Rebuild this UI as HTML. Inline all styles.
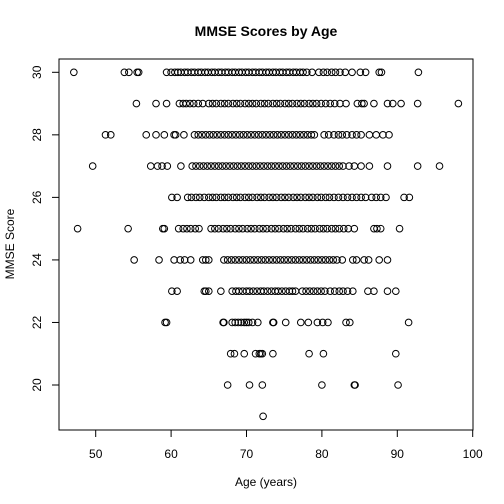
<!DOCTYPE html>
<html><head><meta charset="utf-8">
<style>
html,body{margin:0;padding:0;background:#fff;}
svg{display:block;font-family:"Liberation Sans",Arial,sans-serif;}
</style></head>
<body>
<svg id="chart" width="504" height="504" viewBox="0 0 504 504">
<rect x="0" y="0" width="504" height="504" fill="#fff"/>
<text x="266" y="36" text-anchor="middle" font-size="14" font-weight="bold">MMSE Scores by Age</text>
<text x="266" y="486" text-anchor="middle" font-size="12">Age (years)</text>
<text x="0" y="0" transform="translate(14,244) rotate(-90)" text-anchor="middle" font-size="12">MMSE Score</text>
<rect x="59" y="59" width="414" height="371" fill="none" stroke="#000" stroke-width="1"/>
<g id="xaxis"></g>
<g id="yaxis"></g>
<g id="points"></g>
</svg>
<script>
const xTicks = [50,60,70,80,90,100];
const yTicks = [20,22,24,26,28,30];
const scores = [30,29,28,27,26,25,24,23,22,21,20,19];
const row30 = [47.1,53.8,54.4,55.5,55.7,59.4,60.0,60.5,60.9,61.3,61.8,62.2,62.7,63.1,63.6,64.0,64.5,64.9,65.4,65.8,66.3,66.7,67.2,67.6,68.1,68.5,69.0,69.4,69.9,70.3,70.8,71.2,71.7,72.1,72.6,73.0,73.5,73.9,74.4,74.8,75.3,75.7,76.2,76.6,77.1,77.5,78.0,78.7,79.6,80.2,80.7,81.3,81.8,82.4,83.1,84.0,85.1,85.8,87.6,87.9,92.8];
const row29 = [55.4,58.0,59.4,61.1,61.6,62.0,62.5,63.0,63.6,64.2,65.0,65.5,66.0,66.6,67.1,67.6,68.2,68.7,69.2,69.8,70.3,70.8,71.3,71.9,72.4,72.9,73.5,74.0,74.5,75.1,75.6,76.1,76.7,77.2,77.7,78.3,78.8,79.3,79.9,80.5,81.1,81.7,82.4,83.2,84.7,85.3,85.6,86.9,88.7,89.4,90.5,92.7,98.1];
const row28 = [51.3,52.0,56.7,58.0,59.1,60.4,60.6,61.7,63.1,63.6,64.1,64.6,65.1,65.6,66.1,66.6,67.1,67.6,68.1,68.6,69.1,69.6,70.1,70.6,71.1,71.6,72.1,72.6,73.1,73.6,74.1,74.6,75.1,75.6,76.1,76.6,77.1,77.6,78.1,78.6,79.0,80.3,80.9,81.6,82.2,82.7,83.3,84.0,84.6,85.2,86.3,87.2,88.1,88.9];
const row27 = [49.6,57.3,58.2,58.8,59.5,61.3,62.8,63.3,63.8,64.3,64.8,65.3,65.8,66.3,66.8,67.3,67.8,68.3,68.8,69.3,69.8,70.3,70.8,71.3,71.8,72.3,72.8,73.3,73.8,74.3,74.8,75.3,75.8,76.3,76.8,77.3,77.8,78.3,78.8,79.3,79.8,80.3,80.8,81.3,81.8,82.3,82.8,83.6,84.3,85.2,86.3,88.7,92.7,95.6];
const row26 = [60.1,60.8,62.2,62.7,63.3,63.8,64.4,65.0,65.5,66.0,66.6,67.1,67.6,68.2,68.7,69.2,69.8,70.3,70.8,71.4,71.9,72.4,73.0,73.5,74.0,74.6,75.1,75.6,76.2,76.7,77.2,77.8,78.3,78.8,79.4,79.9,80.5,81.0,81.6,82.2,82.8,83.4,84.0,84.6,85.2,85.8,86.6,87.2,87.8,88.5,90.9,91.6];
const row25 = [47.6,54.3,58.9,59.1,61.0,61.6,62.1,62.6,63.2,63.7,65.3,65.8,66.3,66.9,67.4,67.9,68.5,69.0,69.5,70.1,70.6,71.1,71.7,72.2,72.7,73.3,73.8,74.3,74.9,75.4,75.9,76.5,77.0,77.5,78.1,78.6,79.1,79.7,80.2,80.7,81.3,81.8,82.3,82.9,83.5,84.3,86.9,87.3,87.8,90.3];
const row24 = [55.1,58.4,60.4,61.2,61.8,62.6,64.2,64.6,65.0,67.0,67.5,68.0,68.5,69.0,69.5,70.0,70.5,71.0,71.5,72.0,72.5,73.0,73.5,74.0,74.5,75.0,75.5,76.0,76.5,77.0,77.5,78.0,78.5,79.0,79.5,80.0,80.5,81.0,81.5,82.0,82.7,84.1,84.6,85.6,86.2,87.6,88.7];
const row23 = [60.1,60.8,64.4,64.6,65.0,66.6,68.1,68.6,69.0,69.5,70.0,70.4,70.9,71.4,71.9,72.3,72.8,73.3,73.8,74.2,74.7,75.2,75.7,76.1,76.5,77.4,77.9,78.4,78.9,79.4,79.9,80.4,81.1,81.7,82.3,82.8,83.4,84.1,86.1,86.9,88.7,89.8];
const row22 = [59.2,59.4,66.9,67.0,68.1,68.5,68.9,69.3,69.7,70.0,70.3,70.8,71.5,73.5,73.6,75.2,77.2,78.2,79.4,80.1,80.8,83.2,83.7,91.5];
const row21 = [67.9,68.4,69.7,71.2,71.7,71.9,72.1,73.5,78.3,80.2,89.8];
const row20 = [67.5,70.4,72.1,80.0,84.3,84.4,90.1];
const row19 = [72.2];
const rows = [row30,row29,row28,row27,row26,row25,row24,row23,row22,row21,row20,row19];

const NS = "http://www.w3.org/2000/svg";
function xs(v){ return 95.7 + (v-50)*7.54; }
function ys(v){ return 72.3 + (30-v)*31.27; }
function mk(tag, attrs, parent){
  const e = document.createElementNS(NS, tag);
  for (const k in attrs) e.setAttribute(k, attrs[k]);
  parent.appendChild(e);
  return e;
}
const xg = document.getElementById('xaxis');
const yg = document.getElementById('yaxis');
const pg = document.getElementById('points');
mk('line',{x1:xs(xTicks[0]),x2:xs(xTicks[xTicks.length-1]),y1:430,y2:430,stroke:'#000','stroke-width':1},xg);
xTicks.forEach(t=>{
  const l = mk('line',{x1:xs(t),x2:xs(t),y1:430,y2:437,stroke:'#000','stroke-width':1},xg);
  
  
  const tx = mk('text',{x:xs(t),y:458,'text-anchor':'middle','font-size':12},xg);
  tx.textContent = t;
  
  
});
mk('line',{x1:59,x2:59,y1:ys(yTicks[0]),y2:ys(yTicks[yTicks.length-1]),stroke:'#000','stroke-width':1},yg);
yTicks.forEach(t=>{
  const l = mk('line',{x1:52,x2:59,y1:ys(t),y2:ys(t),stroke:'#000','stroke-width':1},yg);
  
  
  const tx = mk('text',{x:0,y:0,transform:'translate(41,'+ys(t)+') rotate(-90)','text-anchor':'middle','font-size':12},yg);
  tx.textContent = t;
  
  
});
rows.forEach((r,i)=>{
  r.forEach(a=>{
    const c = mk('circle',{cx:xs(a),cy:ys(scores[i]),r:3.3,fill:'none',stroke:'#000','stroke-width':1},pg);
    
    
  });
});
</script>
</body></html>
